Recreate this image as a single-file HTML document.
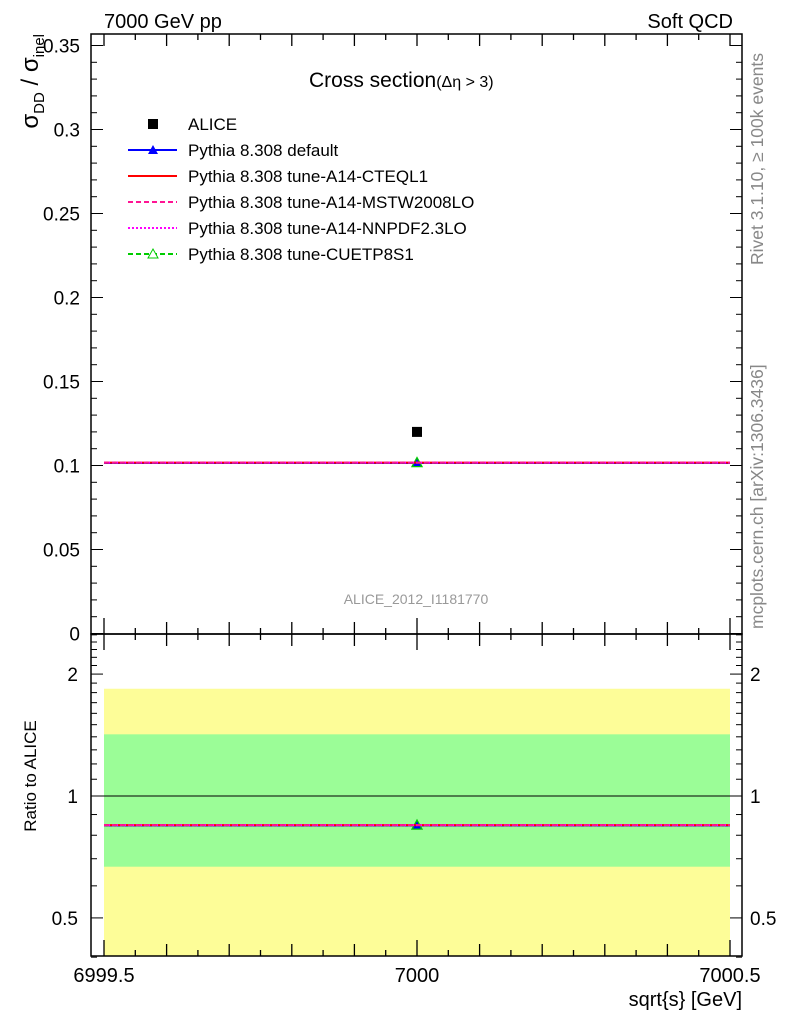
<!DOCTYPE html>
<html><head><meta charset="utf-8"><style>
body{margin:0;background:#fff}
svg{display:block;font-family:"Liberation Sans",sans-serif}
</style></head><body>
<svg id="c" width="786" height="1024" viewBox="0 0 786 1024"></svg>
<script>
const categories=[7000];
const aliceValues=[0.12];
const seriesNames=["Pythia 8.308 default","Pythia 8.308 tune-A14-CTEQL1","Pythia 8.308 tune-A14-MSTW2008LO","Pythia 8.308 tune-A14-NNPDF2.3LO","Pythia 8.308 tune-CUETP8S1"];
const seriesValues=[[0.1015],[0.1017],[0.1017],[0.1017],[0.1017]];
const mainTicks=[0,0.05,0.1,0.15,0.2,0.25,0.3,0.35];
const mainTickLabels=["0","0.05","0.1","0.15","0.2","0.25","0.3","0.35"];
const ratioTicks=[0.5,1,2];
const ratioTickLabels=["0.5","1","2"];
const xTicks=[6999.5,7000,7000.5];
const xTickLabels=["6999.5","7000","7000.5"];
const band1=[0.669,1.42];
const band2=[0.16,1.84];

const L=91,R=742,T=34,M=634,B=956;
const X=v=>104+(v-6999.5)*626;
const Y=v=>633.5-1680*v;
const YR=r=>796-405*Math.log10(r);
const svg=document.getElementById('c');
const NS="http://www.w3.org/2000/svg";
function el(t,a,name,txt){const e=document.createElementNS(NS,t);for(const k in a)e.setAttribute(k,a[k]);


if(txt!==undefined)e.textContent=txt;svg.appendChild(e);return e;}
el('rect',{x:X(6999.5),y:YR(band2[1]),width:X(7000.5)-X(6999.5),height:B-YR(band2[1]),fill:'#fdfd98'},'outer-uncertainty-band');
el('rect',{x:X(6999.5),y:YR(band1[1]),width:X(7000.5)-X(6999.5),height:YR(band1[0])-YR(band1[1]),fill:'#9bfd97'},'inner-uncertainty-band');
el('line',{x1:L,x2:R,y1:YR(1),y2:YR(1),stroke:'#000','stroke-width':1},'ratio-unity-line');
el('rect',{x:L,y:T,width:R-L,height:M-T,fill:'none',stroke:'#000','stroke-width':1.5},'main-frame');
el('rect',{x:L,y:M,width:R-L,height:B-M,fill:'none',stroke:'#000','stroke-width':1.5},'ratio-frame');
for(let i=0;i<=35;i++){const v=i/100,y=Y(v),maj=i%5==0,l=maj?12:6;
el('line',{x1:L,x2:L+l,y1:y,y2:y,stroke:'#000'},'y-tick');
el('line',{x1:R,x2:R-l,y1:y,y2:y,stroke:'#000'},'y-tick-right');}
mainTicks.forEach((v,i)=>el('text',{x:80,y:Y(v)+7,'font-size':19,'text-anchor':'end'},'y-tick-label',mainTickLabels[i]));
const rt=[0.4,0.5,0.6,0.7,0.8,0.9,1,1.1,1.2,1.3,1.4,1.5,1.6,1.7,1.8,1.9,2,2.1,2.2,2.3,2.4,2.5];
rt.forEach(r=>{const y=YR(r);const maj=ratioTicks.includes(r);const l=maj?12:6;
el('line',{x1:L,x2:L+l,y1:y,y2:y,stroke:'#000'},'ratio-tick');
el('line',{x1:R,x2:R-l,y1:y,y2:y,stroke:'#000'},'ratio-tick-right');});
ratioTicks.forEach((v,i)=>{el('text',{x:78,y:YR(v)+7,'font-size':19,'text-anchor':'end'},'ratio-tick-label',ratioTickLabels[i]);
el('text',{x:750,y:YR(v)+7,'font-size':19},'ratio-tick-label-right',ratioTickLabels[i]);});
for(let i=0;i<=20;i++){const v=6999.5+i*0.05,x=X(v),maj=i%2==0,l=maj?12:6;
[[M,-1],[M,1],[B,-1],[T,1]].forEach(([y0,d])=>el('line',{x1:x,x2:x,y1:y0,y2:y0+d*(i%10==0&&y0!=T?16:l),stroke:'#000','stroke-width':1.3},'x-tick'));}
xTicks.forEach((v,i)=>el('text',{x:X(v),y:982,'font-size':20,'text-anchor':'middle'},'x-tick-label',xTickLabels[i]));
const styles=[{c:'#0000ff',d:''},{c:'#ff0000',d:''},{c:'#ff1493',d:'5,3'},{c:'#ff00ff',d:'2,2'},{c:'#00cc00',d:'5,3'}];
[0,4,1,3,2].forEach(k=>{const s=seriesValues[k];s.forEach((v,j)=>{
el('line',{x1:X(6999.5),x2:X(7000.5),y1:Y(v),y2:Y(v),stroke:styles[k].c,'stroke-width':2,'stroke-dasharray':styles[k].d},'series-line-'+k);
const r=v/aliceValues[j];
el('line',{x1:X(6999.5),x2:X(7000.5),y1:YR(r),y2:YR(r),stroke:styles[k].c,'stroke-width':2,'stroke-dasharray':styles[k].d},'ratio-line-'+k);
const x=X(categories[j]);
if(k==0){el('path',{d:`M${x-5},${Y(v)+4}L${x+5},${Y(v)+4}L${x},${Y(v)-5}Z`,fill:'#00f'},'default-marker');
el('path',{d:`M${x-5},${YR(r)+4}L${x+5},${YR(r)+4}L${x},${YR(r)-5}Z`,fill:'#00f'},'default-ratio-marker');}
if(k==4){el('path',{d:`M${x-5},${Y(v)+4}L${x+5},${Y(v)+4}L${x},${Y(v)-5}Z`,fill:'none',stroke:'#0c0','stroke-width':1.3},'cuetp8s1-marker');
el('path',{d:`M${x-5},${YR(r)+4}L${x+5},${YR(r)+4}L${x},${YR(r)-5}Z`,fill:'none',stroke:'#0c0','stroke-width':1.3},'cuetp8s1-ratio-marker');}
});});
aliceValues.forEach((v,j)=>el('rect',{x:X(categories[j])-5,y:Y(v)-5,width:10,height:10,fill:'#000'},'alice-point'));
el('rect',{x:148,y:119,width:10,height:10,fill:'#000'},'legend-alice-marker');
el('text',{x:188,y:130,'font-size':17},'legend-alice','ALICE');
seriesNames.forEach((n,k)=>{const y=150+k*26;
el('line',{x1:128,x2:177,y1:y,y2:y,stroke:styles[k].c,'stroke-width':2,'stroke-dasharray':styles[k].d},'legend-line-'+k);
if(k==0)el('path',{d:`M148,${y+4}L158,${y+4}L153,${y-5}Z`,fill:'#00f'},'legend-marker-0');
if(k==4)el('path',{d:`M148,${y+4}L158,${y+4}L153,${y-5}Z`,fill:'#fff',stroke:'#0c0'},'legend-marker-4');
el('text',{x:188,y:y+6,'font-size':17},'legend-entry-'+k,n);});
el('text',{x:104,y:28,'font-size':20},'beam-label','7000 GeV pp');
el('text',{x:733,y:28,'font-size':20,'text-anchor':'end'},'process-label','Soft QCD');
const t=el('text',{x:309,y:87,'font-size':21},'plot-title','Cross section');
const ts=document.createElementNS(NS,'tspan');ts.setAttribute('font-size','16');ts.textContent='(\u0394\u03b7 > 3)';t.appendChild(ts);
el('text',{x:416,y:604,'font-size':14,fill:'#999','text-anchor':'middle'},'analysis-id','ALICE_2012_I1181770');
el('text',{x:0,y:0,'font-size':17.5,fill:'#888',transform:'translate(763,265) rotate(-90)'},'rivet-label','Rivet 3.1.10, \u2265 100k events');
el('text',{x:0,y:0,'font-size':17.5,fill:'#888',transform:'translate(763,629) rotate(-90)'},'mcplots-label','mcplots.cern.ch [arXiv:1306.3436]');
el('text',{x:0,y:0,'font-size':17,'text-anchor':'middle',transform:'translate(36,776) rotate(-90)'},'ratio-axis-title','Ratio to ALICE');
el('text',{x:742,y:1006,'font-size':20,'text-anchor':'end'},'x-axis-title','sqrt{s} [GeV]');
const yt=el('text',{x:0,y:0,'font-size':24,'text-anchor':'end',transform:'translate(38,34) rotate(-90)'},'y-axis-title','');
yt.innerHTML='\u03c3<tspan font-size="15" dy="6">DD</tspan><tspan dy="-6"> / \u03c3</tspan><tspan font-size="15" dy="6">inel</tspan>';
</script>
</body></html>
